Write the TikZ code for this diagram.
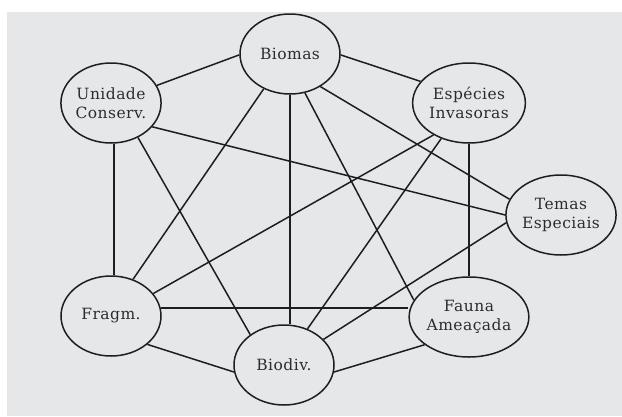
\documentclass[tikz,border=0pt]{standalone}
\usepackage{fontspec}
\newfontfamily\lblfont{DejaVu Serif}[LetterSpace=3]
\usetikzlibrary{shapes.geometric}
\definecolor{bggray}{HTML}{E6E7E9}
\definecolor{txtgray}{HTML}{2C2C2C}
\definecolor{edgecol}{HTML}{1E1E1E}
\tikzset{
  topic/.style={ellipse, draw=edgecol, line width=1.5pt, minimum width=100pt, minimum height=80pt,
    inner sep=0pt, align=center, text=txtgray, font=\lblfont\fontsize{15.5}{19.5}\selectfont},
  link/.style={draw=edgecol, line width=1.5pt}
}
\begin{document}
\begin{tikzpicture}[x=1pt,y=-1pt]
\useasboundingbox (0,0) rectangle (622,416);
\fill[white] (0,0) rectangle (622,416);
\fill[bggray] (7,12) rectangle (622,416);
\node[topic] (B)  at (290,54)  {Biomas};
\node[topic] (U)  at (111,103) {Unidade\\Conserv.};
\node[topic] (E)  at (469,103) {Espécies\\Invasoras};
\node[topic] (T)  at (561,215) {Temas\\Especiais};
\node[topic] (F)  at (111,316) {Fragm.};
\node[topic] (Fa) at (469,317) {Fauna\\Ameaçada};
\node[topic] (Bd) at (284,365) {Biodiv.};
% edges
\draw[link] (B.181) -- (U.21);
\draw[link] (B.-1) -- (E.156);
\draw[link] (B.233) -- (F.59);
\draw[link] (B.south) -- (B.south |- Bd.north);
\draw[link] (B.-69) -- (Fa.163);
\draw[link] (B.-47) -- (T.163);
\draw[link] (U.-30) -- (T.180);
\draw[link] (U.-86) -- (U.-86 |- F.north);
\draw[link] (U.-52) -- (Bd.138);
\draw[link] (E.222) -- (F.28);
\draw[link] (E.232) -- (Bd.57);
\draw[link] (E.south) -- (Fa.north);
\draw[link] (T.188) -- (Bd.33);
\draw[link] (F.9) -- (F.9 -| Fa.west);
\draw[link] (F.-38) -- (Bd.188);
\draw[link] (Fa.212) -- (Bd.-8);
\end{tikzpicture}
\end{document}
